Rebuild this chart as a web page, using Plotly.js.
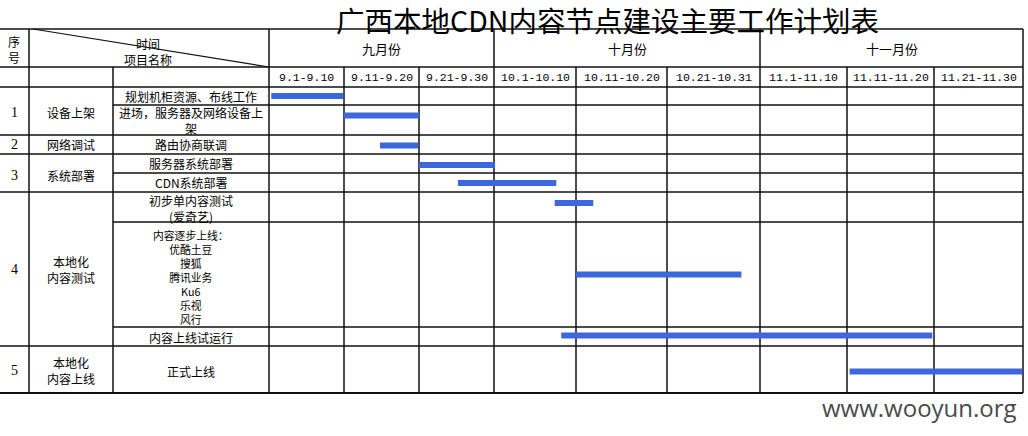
<!DOCTYPE html>
<html>
<head>
<meta charset="utf-8">
<script src="https://cdn.plot.ly/plotly-3.0.1.min.js"></script>
<style>html,body{margin:0;padding:0;background:#fff;}#chart{width:1028px;height:436px;}</style>
</head>
<body>
<div id="chart"></div>
<script>
// ---------------- DATA ----------------
const chartTitle = '广西本地CDN内容节点建设主要工作计划表';
const headerNo = '序<br>号';
const headerTimeItem = '时间<br>项目名称';
const months = ['九月份', '十月份', '十一月份'];
const monthPeriods = [3, 3, 3];               // number of periods in each month
const periods = ['9.1-9.10', '9.11-9.20', '9.21-9.30', '10.1-10.10', '10.11-10.20',
                 '10.21-10.31', '11.1-11.10', '11.11-11.20', '11.21-11.30'];
const groupNo = ['1', '2', '3', '4', '5'];
const groupNames = ['设备上架', '网络调试', '系统部署', '本地化<br>内容测试', '本地化<br>内容上线'];
const taskNames = [
  '规划机柜资源、布线工作',
  '进场，服务器及网络设备上<br>架',
  '路由协商联调',
  '服务器系统部署',
  'CDN系统部署',
  '初步单内容测试<br>(爱奇艺)',
  '内容逐步上线：<br>优酷土豆<br>搜狐<br>腾讯业务<br>Ku6<br>乐视<br>风行',
  '内容上线试运行',
  '正式上线'
];
const taskGroup = [0, 0, 1, 2, 2, 3, 3, 3, 4];
// start / end of each task, in period units (0 = 9.1, 9 = end of 11.30)
const taskStart = [0.03, 1.00, 1.48, 2.00, 2.52, 3.74, 4.00, 3.82, 7.03];
const taskEnd   = [0.99, 2.00, 1.99, 3.01, 3.76, 4.19, 5.80, 7.98, 8.99];
const watermark = 'www.wooyun.org';

// ---------------- LAYOUT (positions / styles) ----------------
const W = 1028, H = 436;
const colEdges = [269, 344, 419, 494, 576, 667, 760, 847, 934, 1023];
const leftCols = [0, 29, 113, 269];
const tableTop = 29, headMid = 67, headBottom = 87;
const rowEdges = [87, 105, 135, 154, 173, 192, 222, 327, 346, 393];
const barNudge = [0, -4.5, 1, 1.5, 0.5, -4, 0, -1, 2];
const taskTextNudge = [0, 0, 0, 0, 0, 1, 2, 1, 2];
const taskTextSize = [12, 12, 12, 12, 12, 12, 10.8, 12, 12];
const groupTextNudge = [2, 0, 2, 0, 1];
const barColor = '#3b68dc';
const lineColor = '#111';
const cjk = '"Noto Sans CJK SC", "Noto Sans", sans-serif';
const mono = '"Liberation Mono", "DejaVu Sans Mono", monospace';
const serif = '"Liberation Serif", "DejaVu Serif", serif';

const px = x => x / W;
const py = y => 1 - y / H;

// ---------------- BUILD ----------------
const layout = {
  width: W, height: H,
  margin: {l: 0, r: 0, t: 0, b: 0, pad: 0},
  paper_bgcolor: '#fff', plot_bgcolor: 'rgba(0,0,0,0)',
  showlegend: false,
  yaxis: {domain: [0, 1], range: [H, 0], visible: false, fixedrange: true},
  shapes: [], annotations: []
};
const nP = periods.length;
for (let k = 0; k < nP; k++) {
  const key = k === 0 ? 'xaxis' : 'xaxis' + (k + 1);
  layout[key] = {domain: [px(colEdges[k]), px(colEdges[k + 1])], range: [k, k + 1],
                 visible: false, fixedrange: true, anchor: 'y'};
}

// bars: split each task over the period axes
const traces = [];
taskNames.forEach((t, i) => {
  const yc = (rowEdges[i] + rowEdges[i + 1]) / 2 + barNudge[i];
  for (let k = 0; k < nP; k++) {
    const a = Math.max(taskStart[i], k), b = Math.min(taskEnd[i], k + 1);
    if (b > a) {
      traces.push({
        type: 'scatter', mode: 'lines', x: [a, b], y: [yc, yc],
        xaxis: k === 0 ? 'x' : 'x' + (k + 1), yaxis: 'y',
        line: {color: barColor, width: 6}, hoverinfo: 'skip', cliponaxis: false
      });
    }
  }
});

// grid lines
function hline(y, x0, x1, w) {
  layout.shapes.push({type: 'line', xref: 'paper', yref: 'paper', layer: 'below',
    x0: px(x0), x1: px(x1), y0: py(y), y1: py(y), line: {color: lineColor, width: w || 1.5}});
}
function vline(x, y0, y1, w) {
  layout.shapes.push({type: 'line', xref: 'paper', yref: 'paper', layer: 'below',
    x0: px(x), x1: px(x), y0: py(y0), y1: py(y1), line: {color: lineColor, width: w || 1.5}});
}
const right = colEdges[colEdges.length - 1];
const bottom = rowEdges[rowEdges.length - 1];
hline(tableTop, 0, right, 1.6);
hline(headMid, 0, right);
hline(headBottom, 0, right);
for (let i = 1; i < rowEdges.length; i++) {
  const groupBoundary = i === rowEdges.length - 1 || taskGroup[i] !== taskGroup[i - 1];
  hline(rowEdges[i], groupBoundary ? 0 : leftCols[2], right, i === rowEdges.length - 1 ? 2 : 1.5);
}
vline(leftCols[1], tableTop, bottom);
vline(leftCols[2], headMid, bottom);
vline(leftCols[3], tableTop, bottom);
let acc = 0;
const monthBound = new Set([0]);
monthPeriods.forEach(n => { acc += n; monthBound.add(acc); });
for (let k = 1; k < colEdges.length; k++) {
  vline(colEdges[k], monthBound.has(k) ? tableTop : headMid, bottom);
}
// diagonal header line
layout.shapes.push({type: 'line', xref: 'paper', yref: 'paper', layer: 'below',
  x0: px(33), y0: py(tableTop), x1: px(leftCols[3]), y1: py(headMid), line: {color: lineColor, width: 1.2}});

// text
function txt(text, x, y, size, family, extra) {
  layout.annotations.push(Object.assign({
    text: text, x: px(x), y: py(y), xref: 'paper', yref: 'paper',
    xanchor: 'center', yanchor: 'middle', showarrow: false,
    font: {family: family, size: size, color: '#000'}
  }, extra || {}));
}
txt(chartTitle, 607, 19, 28.5, cjk);
txt(headerNo, 14, 49, 12, cjk);
txt(headerTimeItem, 148, 51, 12, cjk);
acc = 0;
months.forEach((m, i) => {
  const x0 = colEdges[acc], x1 = colEdges[acc + monthPeriods[i]];
  txt(m, (x0 + x1) / 2, 48, 13, cjk);
  acc += monthPeriods[i];
});
periods.forEach((p, k) => txt(p, (colEdges[k] + colEdges[k + 1]) / 2, 77.5, 11.5, mono));
taskNames.forEach((t, i) => {
  txt(t, (leftCols[2] + leftCols[3]) / 2, (rowEdges[i] + rowEdges[i + 1]) / 2 + taskTextNudge[i], taskTextSize[i], cjk);
});
groupNames.forEach((g, gi) => {
  const rows = taskGroup.map((v, i) => v === gi ? i : -1).filter(i => i >= 0);
  const yc = (rowEdges[rows[0]] + rowEdges[rows[rows.length - 1] + 1]) / 2 + groupTextNudge[gi];
  txt(groupNo[gi], (leftCols[0] + leftCols[1]) / 2, yc, 14, serif);
  txt(g, (leftCols[1] + leftCols[2]) / 2, yc, 12, cjk);
});
txt(watermark, 1019, 407, 24, '"Open Sans", sans-serif',
    {xanchor: 'right', font: {family: '"Open Sans", sans-serif', size: 24, color: '#4a4a4a'}});

Plotly.newPlot('chart', traces, layout, {staticPlot: true, displayModeBar: false});
</script>
</body>
</html>
